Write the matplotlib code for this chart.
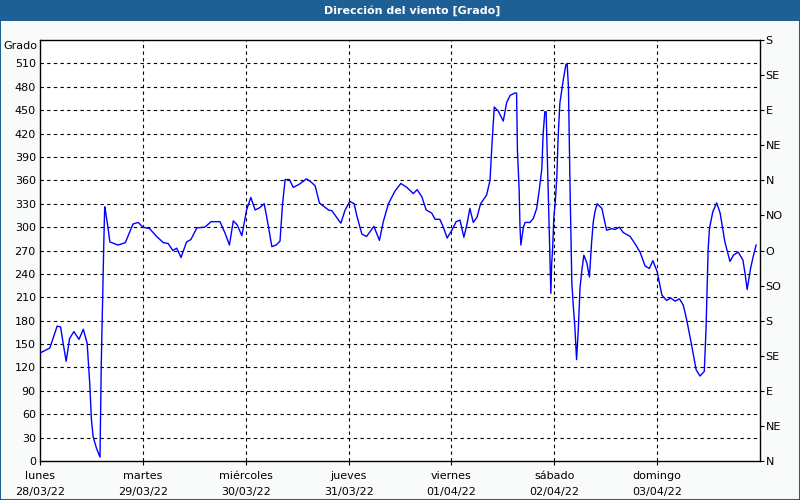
import matplotlib
matplotlib.use("Agg")
import matplotlib.pyplot as plt
from matplotlib.patches import Rectangle

# hours since lunes 28/03/22 00:00
hours = [0.2, 2.3, 4.0, 4.8, 5.4, 6.1, 6.9, 7.9, 9.1, 10.1, 11.0, 11.6, 12.0, 12.4, 13.2, 14.0,
         14.3, 14.6, 14.9, 15.1, 15.3, 15.9, 16.3, 18.2, 19.9, 21.7, 22.9, 24.0, 25.6, 27.2,
         28.8, 29.9, 31.0, 31.9, 32.9, 34.2, 35.2, 36.6, 38.5, 39.9, 42.0, 43.2, 44.2, 45.1,
         46.0, 47.1, 48.2, 49.2, 50.2, 51.3, 52.3, 52.9, 54.1, 55.1, 56.0, 56.6, 57.2, 58.2,
         59.1, 60.5, 62.2, 63.2, 64.2, 65.2, 67.3, 68.1, 70.2, 71.2, 72.3, 73.3, 74.0, 75.1,
         76.2, 77.9, 79.2, 80.1, 81.3, 82.8, 84.2, 85.6, 87.1, 88.0, 89.1, 90.1, 91.4, 92.2,
         93.3, 94.1, 95.0, 96.1, 97.1, 98.0, 98.9, 99.6, 100.3, 101.1, 102.0, 102.8, 104.2,
         105.0, 105.5, 106.0, 106.9, 108.1, 108.9, 109.7, 110.8, 111.2, 111.4, 111.8, 112.0,
         112.2, 112.8, 113.2, 114.3, 115.1, 115.9, 116.5, 117.1, 117.4, 117.8, 118.1, 118.6,
         118.8, 119.2, 119.4, 119.6, 119.9, 120.2, 120.6, 120.9, 121.3, 122.1, 122.7, 123.0,
         123.3, 123.7, 124.1, 124.4, 124.8, 125.2, 125.6, 126.0, 126.4, 126.9, 127.6, 128.2,
         128.7, 129.1, 129.5, 130.0, 131.1, 132.2, 133.4, 134.2, 135.2, 136.1, 137.7, 138.8,
         140.0, 141.2, 142.2, 143.0, 144.0, 145.1, 146.2, 147.2, 148.2, 149.2, 150.1, 150.9,
         152.1, 153.1, 154.0, 155.0, 155.4, 155.9, 156.2, 157.0, 157.9, 158.7, 159.8, 161.0,
         161.8, 162.9, 164.0, 164.5, 165.0, 165.8, 166.4, 167.1]

direction = [139, 145, 173, 172, 151, 128, 157, 166, 156, 169, 151, 100, 53, 31, 16, 5,
             125, 204, 283, 326, 320, 298, 281, 277, 280, 304, 306, 300, 298, 288,
             280, 279, 270, 273, 261, 281, 284, 299, 300, 307, 307, 292, 277, 308,
             303, 289, 322, 338, 322, 325, 330, 313, 275, 277, 282, 330, 361, 361,
             351, 355, 362, 358, 353, 331, 322, 321, 305, 322, 333, 330, 313, 291,
             288, 301, 283, 307, 330, 346, 356, 351, 343, 348, 339, 322, 318, 310,
             310, 300, 286, 296, 307, 309, 287, 303, 324, 306, 313, 330, 341,
             360, 410, 454, 449, 436, 460, 469, 472, 472, 399, 348, 300,
             277, 300, 306, 306, 311, 324, 348, 375, 420, 448, 448, 343,
             300, 215, 254, 271, 313, 330, 365, 416, 459, 489, 508, 510,
             480, 343, 228, 202, 172, 130, 168, 222, 243, 264, 254, 236,
             280, 307, 320, 330, 324, 296, 298, 297, 300, 293, 288, 279,
             268, 250, 247, 257, 243, 213, 206, 209, 205, 208, 200, 181,
             147, 117, 109, 115, 168, 271, 298, 320, 331, 318, 281, 256,
             264, 268, 258, 241, 220, 247, 262, 277]

day_labels = ["lunes\n28/03/22", "martes\n29/03/22", "miércoles\n30/03/22", "jueves\n31/03/22",
              "viernes\n01/04/22", "sábado\n02/04/22", "domingo\n03/04/22"]
left_ticks = list(range(0, 511, 30))
right_ticks = list(range(0, 541, 45))
right_labels = ["N", "NE", "E", "SE", "S", "SO", "O", "NO", "N", "NE", "E", "SE", "S"]
title = "Dirección del viento [Grado]"

plt.rcParams['font.family'] = ['DejaVu Sans']
fig = plt.figure(figsize=(8, 5), dpi=100, facecolor='#f9fbfb')

# title bar and border
fig.patches.append(Rectangle((0, 1 - 21 / 500), 1, 21 / 500, transform=fig.transFigure,
                             facecolor='#1e6096', edgecolor='none', zorder=0))
fig.patches.append(Rectangle((0.0006, 0.001), 0.9988, 0.998, transform=fig.transFigure,
                             facecolor='none', edgecolor='#1e6096', lw=1.5, zorder=5))
fig.text(0.515, 1 - 10.5 / 500, title, color='white', fontsize=8, fontweight='bold',
         ha='center', va='center')

ax = fig.add_axes([40 / 800, 39 / 500, 720 / 800, 421 / 500])
ax.set_facecolor('white')
ax.plot(hours, direction, color='#0000ff', lw=1.0, zorder=3)
ax.set_xlim(0, 168)
ax.set_ylim(0, 540)

ax.set_yticks(left_ticks)
ax.set_yticklabels([str(v) for v in left_ticks], fontsize=8)
ax.tick_params(axis='y', length=0, pad=3)
ax.set_xticks([24 * i for i in range(7)])
ax.set_xticklabels(day_labels, fontsize=8, linespacing=1.8)
ax.tick_params(axis='x', length=3, width=0.8, pad=4)

for v in left_ticks[1:]:
    ax.axhline(v, color='black', lw=0.8, ls=(0, (3, 3)), zorder=1)
for d in range(1, 7):
    ax.axvline(24 * d, color='black', lw=0.8, ls=(0, (3, 3)), zorder=1)

for s in ax.spines.values():
    s.set_color('black')
    s.set_linewidth(1.0)

ax2 = ax.twinx()
ax2.set_ylim(0, 540)
ax2.set_yticks(right_ticks)
ax2.set_yticklabels(right_labels, fontsize=8)
ax2.tick_params(axis='y', length=3, width=0.8, pad=1)
for s in ax2.spines.values():
    s.set_visible(False)

ax.text(-0.004, 1.0 - 6 / 421, "Grado", transform=ax.transAxes, ha='right', va='center', fontsize=8)

fig.savefig("out.png", dpi=100, facecolor=fig.get_facecolor())
